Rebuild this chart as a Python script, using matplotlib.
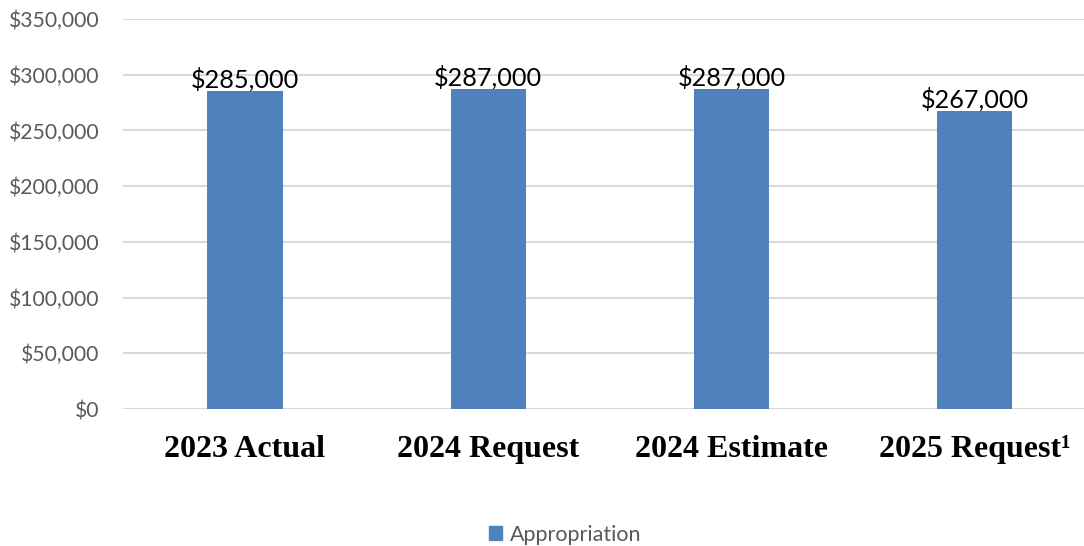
import matplotlib
matplotlib.use("Agg")
import matplotlib.pyplot as plt
from matplotlib.ticker import FuncFormatter, MultipleLocator
from matplotlib.patches import Patch

categories = ["2023 Actual", "2024 Request", "2024 Estimate", "2025 Request\u00b9"]
appropriation = [285000, 287000, 287000, 267000]
series_name = "Appropriation"

bar_color = "#4F81BD"
grid_color = "#D9D9D9"
tick_color = "#595959"
sans = ["Lato", "DejaVu Sans"]
serif = ["Liberation Serif", "DejaVu Serif"]

fig = plt.figure(figsize=(10.84, 5.46), dpi=100)
ax = fig.add_axes([0.1138, 0.2509, 0.8976, 0.7143])

x = range(len(categories))
bars = ax.bar(x, appropriation, width=0.31, color=bar_color, zorder=3)

ax.set_xlim(-0.5, len(categories) - 0.5)
ax.set_ylim(0, 350000)
ax.yaxis.set_major_locator(MultipleLocator(50000))
ax.yaxis.set_major_formatter(FuncFormatter(lambda v, _: f"${v:,.0f}"))
ax.grid(axis="y", color=grid_color, linewidth=1.5, zorder=0)
for s in ax.spines.values():
    s.set_visible(False)
ax.tick_params(axis="both", length=0)
ax.tick_params(axis="y", pad=17)
for lbl in ax.get_yticklabels():
    lbl.set_fontfamily(sans)
    lbl.set_fontsize(15.2)
    lbl.set_color(tick_color)

ax.set_xticks(list(x))
ax.set_xticklabels(categories, fontfamily=serif, fontweight="bold", fontsize=23, color="black")
ax.tick_params(axis="x", pad=19)

for b, v in zip(bars, appropriation):
    ax.annotate(f"${v:,.0f}", (b.get_x() + b.get_width() / 2, v),
                xytext=(0, 0), textcoords="offset points",
                ha="center", va="bottom", fontsize=18.2, family=sans, color="black")

leg = fig.legend(handles=[Patch(color=bar_color, label=series_name)],
                 loc="center", bbox_to_anchor=(0.5215, 0.021), frameon=False,
                 prop={"family": sans, "size": 15.5}, handlelength=0.6, handleheight=0.6,
                 handletextpad=0.35)
for t in leg.get_texts():
    t.set_color(tick_color)

fig.savefig("out.png", dpi=100)
